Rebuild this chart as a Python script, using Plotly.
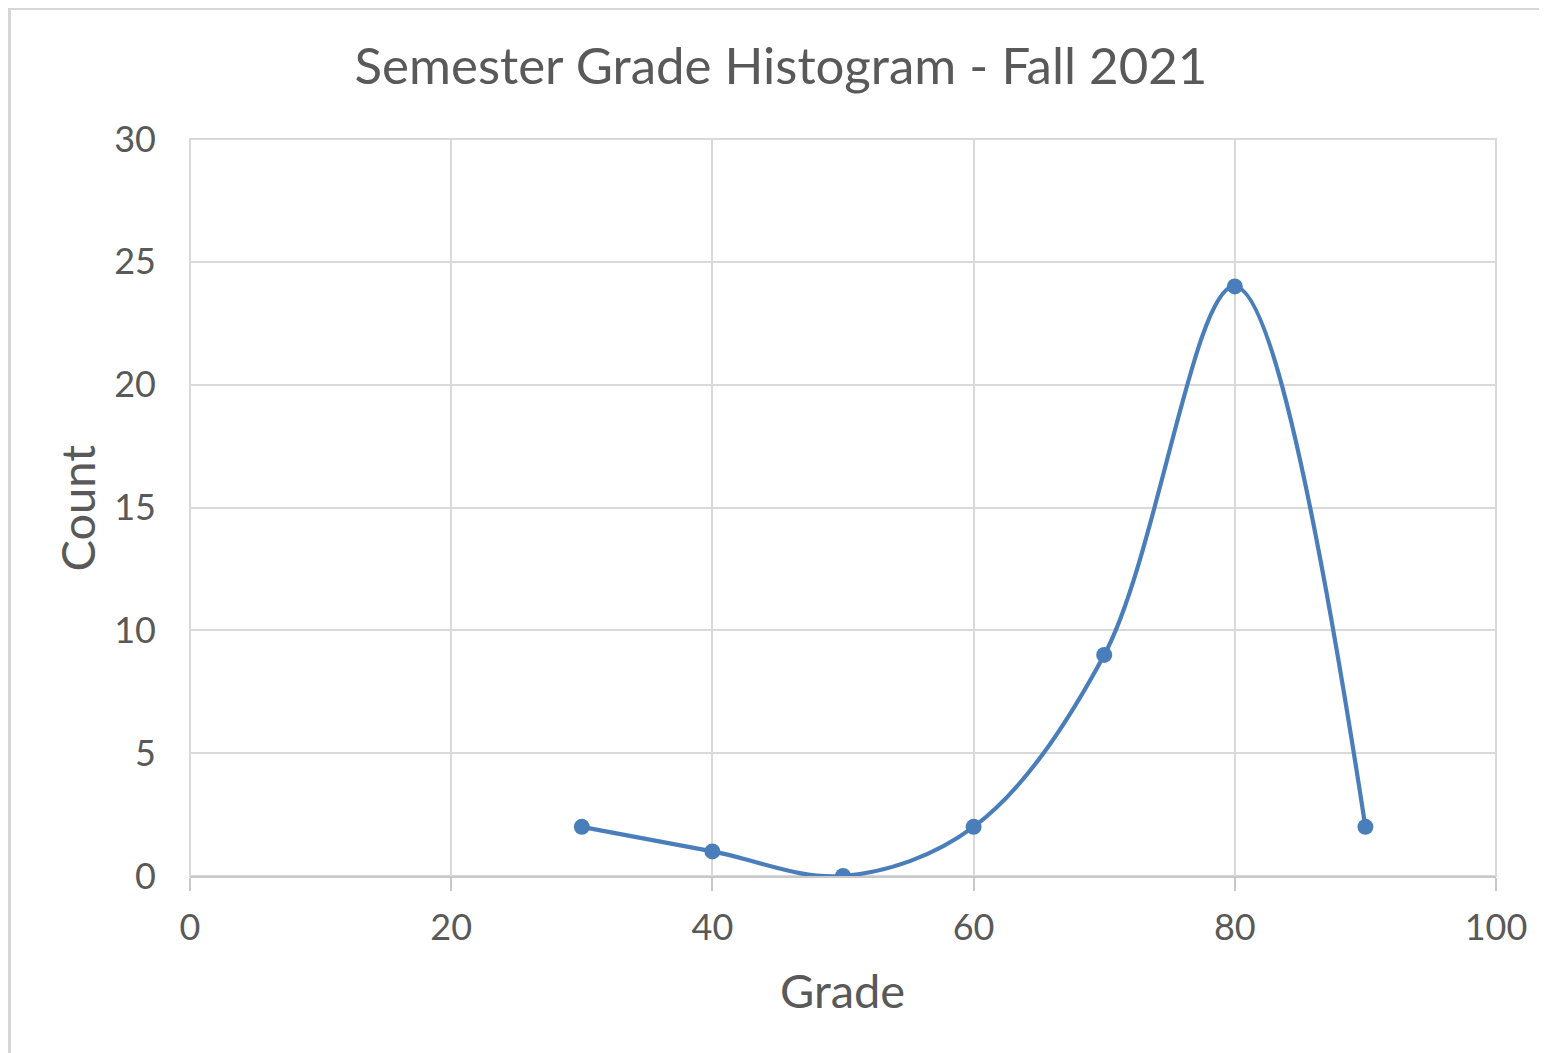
import plotly.graph_objects as go

grades = [30, 40, 50, 60, 70, 80, 90]
counts = [2, 1, 0, 2, 9, 24, 2]
x_ticks = [0, 20, 40, 60, 80, 100]
y_ticks = [0, 5, 10, 15, 20, 25, 30]

FONT = "Lato"
TXT = "#595959"
GRID = "#d9d9d9"

# page body has 8px margin; figure sized to fit
W, H = 1539, 1045
L, R, T, B = 182, 51, 131, 177
PW, PH = W - L - R, H - T - B

fig = go.Figure()
fig.add_trace(go.Scatter(
    x=grades, y=counts, mode="lines+markers",
    line=dict(color="#4a7ebb", width=4.2, shape="spline", smoothing=1.0),
    marker=dict(color="#4a7ebb", size=16),
    showlegend=False,
))

fig.update_layout(
    width=W, height=H,
    margin=dict(l=L, r=R, t=T, b=B),
    paper_bgcolor="white", plot_bgcolor="white",
    title=dict(text="Semester Grade Histogram - Fall 2021", x=(781 - 8) / W, xanchor="center",
               xref="container", y=1 - 58 / H, yanchor="middle", yref="container",
               font=dict(family=FONT, size=51, color=TXT)),
    xaxis=dict(range=[0, 100], tickvals=x_ticks, showgrid=True, gridcolor=GRID, gridwidth=2,
               zeroline=False, showline=True, linecolor="#c8c8c8", linewidth=2, mirror=False,
               ticks="outside", ticklen=13, tickwidth=2, tickcolor="#c8c8c8",
               ticklabelstandoff=6,
               tickfont=dict(family=FONT, size=36, color=TXT)),
    yaxis=dict(range=[0, 30], tickvals=y_ticks, showgrid=True, gridcolor=GRID, gridwidth=2,
               zeroline=False, showline=False, ticks="", ticklabelstandoff=33,
               tickfont=dict(family=FONT, size=36, color=TXT)),
    annotations=[
        dict(text="Grade", xref="paper", yref="paper", x=(834 - L) / PW, y=-(982 - T - PH) / PH,
             xanchor="center", yanchor="middle", showarrow=False,
             font=dict(family=FONT, size=47, color=TXT)),
        dict(text="Count", xref="paper", yref="paper", x=-(L - 68) / PW, y=0.5, textangle=-90,
             xanchor="center", yanchor="middle", showarrow=False,
             font=dict(family=FONT, size=47, color=TXT)),
    ],
    shapes=[dict(type="rect", xref="paper", yref="paper", x0=0, x1=1, y0=0, y1=1,
                 line=dict(color=GRID, width=2), layer="below"),
            dict(type="line", xref="paper", yref="paper",
                 x0=-(L - 1.5) / PW, x1=-(L - 1.5) / PW, y0=-B / PH, y1=(T + 0) / PH + 1,
                 line=dict(color="#d6d6d6", width=3), layer="below"),
            dict(type="line", xref="paper", yref="paper",
                 x0=-(L - 1.5) / PW, x1=(R + PW) / PW, y0=(T - 0.5) / PH + 1, y1=(T - 0.5) / PH + 1,
                 line=dict(color="#d6d6d6", width=3), layer="below")],
)

fig.write_html("out.html")
